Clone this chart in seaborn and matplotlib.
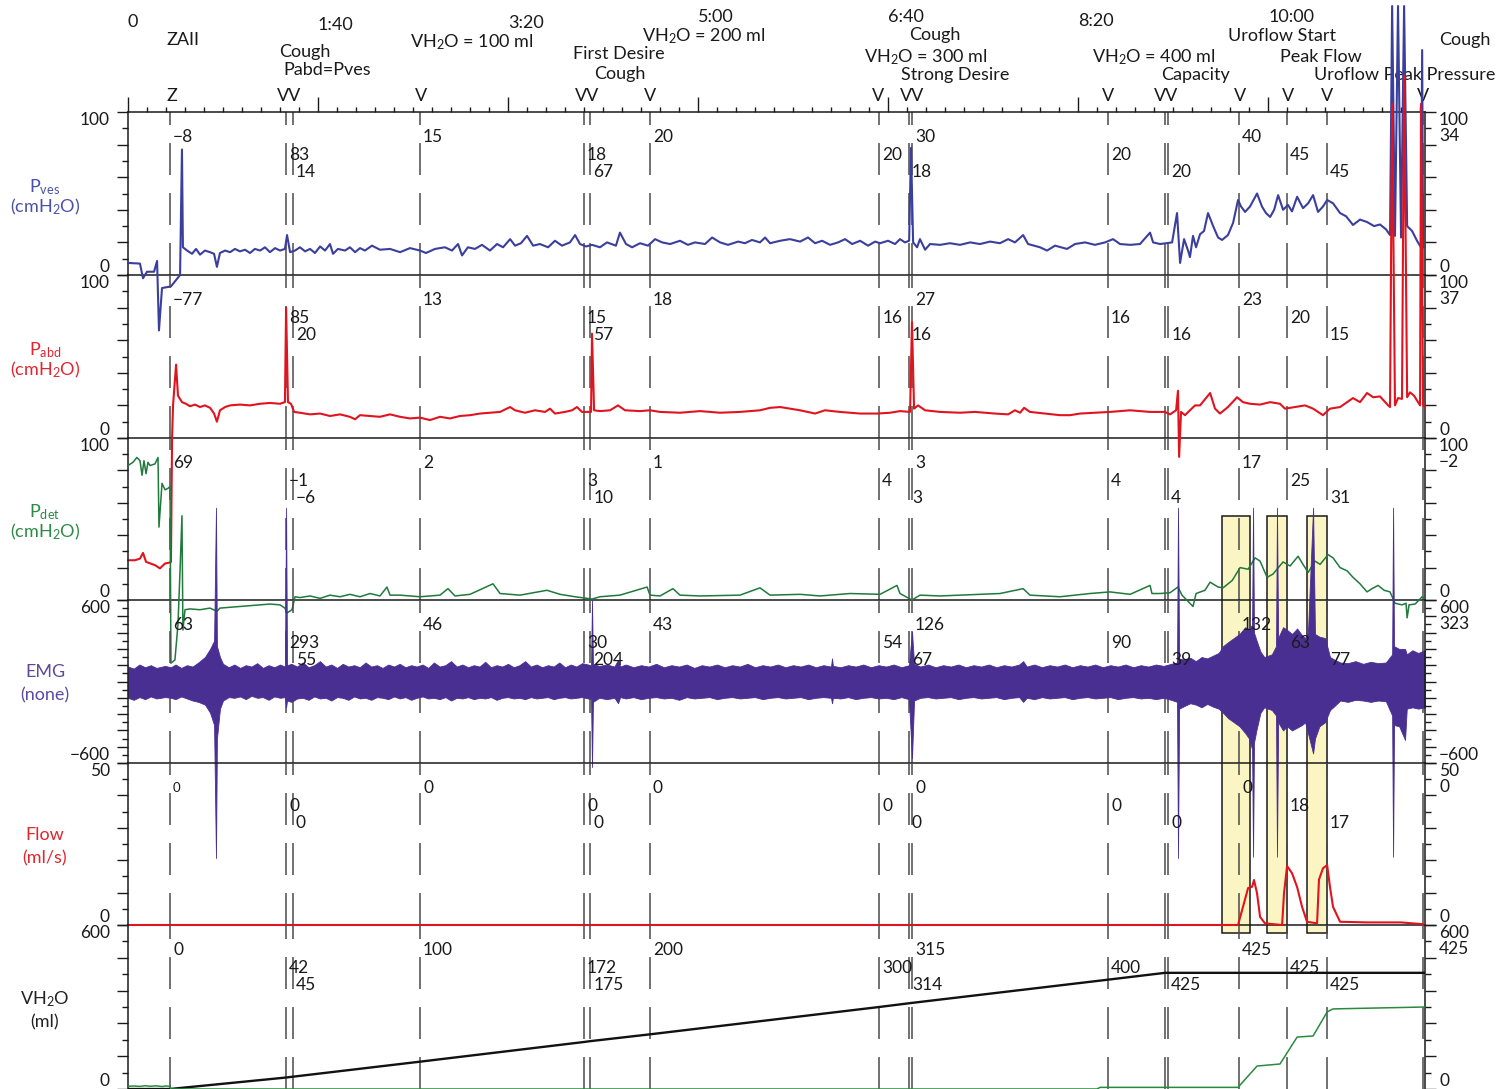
import numpy as np
import matplotlib
matplotlib.use("Agg")
import matplotlib.pyplot as plt
import matplotlib.transforms as mtransforms
from matplotlib.patches import Rectangle
from matplotlib.ticker import MultipleLocator
import seaborn as sns

# ======================= DATA =======================
time_labels = ["0", "1:40", "3:20", "5:00", "6:40", "8:20", "10:00"]
time_label_t = [0, 100, 200, 300, 400, 500, 600]

event_times = [22.1, 83.2, 86.8, 153.7, 240.0, 243.2, 274.7, 395.3, 411.0, 412.6,
               515.8, 545.8, 547.4, 584.7, 610.0, 631.0, 681.6]
event_rows = [0, 1, 2, 0, 1, 2, 0, 1, 2, 0, 1, None, 2, 0, 1, 2, None]

pves_values = ["−8", "83", "14", "15", "18", "67", "20", "20", "18", "30", "20", None, "20", "40", "45", "45", None]
pabd_values = ["−77", "85", "20", "13", "15", "57", "18", "16", "16", "27", "16", None, "16", "23", "20", "15", None]
pdet_values = ["69", "−1", "−6", "2", "3", "10", "1", "4", "3", "3", "4", None, "4", "17", "25", "31", None]
emg_values = ["63", "293", "55", "46", "30", "204", "43", "54", "67", "126", "90", None, "39", "132", "63", "77", None]
flow_values = ["0", "0", "0", "0", "0", "0", "0", "0", "0", "0", "0", None, "0", "0", "18", "17", None]
vol_values = ["0", "42", "45", "100", "172", "175", "200", "300", "314", "315", "400", None, "425", "425", "425", "425", None]

marker_labels = ["Z", "VV", "V", "VV", "V", "V", "VV", "V", "VV", "V", "V", "V", "V"]
marker_t = [23.2, 85.0, 154.2, 241.6, 274.7, 394.7, 412.6, 515.8, 546.3, 585.3, 610.5, 631.1, 681.6]

annot_texts = ["ZAII", "Cough", "Pabd=Pves", "VH$_2$O = 100 ml", "First Desire", "Cough",
               "VH$_2$O = 200 ml", "Cough", "VH$_2$O = 300 ml", "Strong Desire",
               "VH$_2$O = 400 ml", "Capacity", "Uroflow Start", "Peak Flow",
               "Uroflow Peak Pressure", "Cough"]
annot_t = [28.9, 93.2, 104.7, 181.0, 258.4, 259.0, 303.0, 424.7, 420.0, 435.3,
           540.0, 562.0, 607.4, 628.0, 672.0, 703.7]

left_top_labels = ["100", "100", "100", "600", "50", "600"]
left_bot_labels = ["0", "0", "0", "−600", "0", "0"]
right_current = ["34", "37", "−2", "323", "0", "425"]

uroflow_boxes = [(575.8, 590.5), (599.5, 610.0), (620.5, 631.1)]

# (time s, cmH2O)
pves_trace = [(0, 7.4), (6.3, 7), (7.9, -2), (10, 2), (13.7, 2), (15.3, 8.6), (16.3, -34), (17.9, -8),
    (22.6, -7), (27.4, 0), (28.4, 77), (28.9, 17), (31.1, 15), (33.7, 13), (35.8, 16), (37.9, 12.5),
    (40.5, 15), (43.2, 14), (45.3, 13), (46.8, 5), (48.4, 13.5), (51.1, 15), (53.7, 14), (56.3, 16),
    (58.9, 14.5), (61.6, 15.5), (64.2, 13.5), (66.8, 16), (69.5, 15), (72.1, 17), (74.7, 14), (77.4, 16.5),
    (80, 15), (82.6, 16), (83.7, 24.5), (85.3, 14), (87.9, 15), (90.5, 17), (93.2, 14.5), (95.8, 16),
    (98.4, 13.5), (101.1, 17.5), (103.7, 15), (106.3, 19), (107.9, 13), (110.5, 16), (114.2, 15),
    (116.8, 17), (119.5, 14), (122.1, 16.5), (124.7, 15), (128.4, 18), (132.6, 15.5), (137.9, 16),
    (143.2, 14), (148.4, 16.5), (153.7, 15), (156.8, 13.5), (161.6, 16), (166.8, 17), (170.5, 15),
    (173.7, 19), (175.8, 12), (178.9, 17), (182.6, 16), (186.3, 18.5), (190.5, 15), (194.2, 19),
    (197.4, 17), (201.1, 22), (203.7, 18), (206.8, 19.5), (210, 24), (213.2, 18), (216.8, 19),
    (221.1, 17), (224.7, 21), (228.4, 18), (232.6, 20), (235.3, 24.5), (237.9, 19), (241.1, 17.5),
    (244.2, 18.5), (248.4, 17), (252.1, 20), (256.8, 18), (258.9, 26), (262.1, 19), (265.3, 17),
    (269.5, 19.5), (273.7, 18), (277.4, 22), (281.1, 20), (285.3, 19), (290.5, 21), (294.7, 18.5),
    (298.4, 20), (303.7, 19), (307.4, 23), (311.6, 20), (315.8, 18.5), (321.1, 20.5), (324.7, 19.5),
    (328.4, 21.5), (332.6, 20), (335.3, 23), (337.9, 19.5), (343.2, 21), (348.4, 22), (353.7, 20.5),
    (357.9, 23), (361.6, 19.5), (365.3, 21), (369.5, 18.5), (373.7, 20), (377.4, 22), (381.1, 19),
    (385.3, 21), (389.5, 18), (393.2, 20.5), (395.8, 19.5), (400, 21), (403.7, 19), (406.3, 22),
    (408.9, 20), (411.1, 21), (412.1, 78), (413.2, 20), (415.3, 17), (416.8, 22), (419.5, 15.5),
    (422.1, 19), (427.4, 18.5), (432.6, 19.5), (437.9, 18.5), (443.2, 20), (448.4, 19), (453.7, 20.5),
    (458.9, 19.5), (463.2, 22), (466.8, 20), (471.1, 24.5), (473.7, 19), (480, 17), (483.7, 15),
    (487.9, 18), (494.2, 16), (498.4, 19), (503.7, 20), (508.9, 18.5), (514.2, 20), (518.4, 22),
    (522.1, 19), (527.4, 18.5), (532.6, 19), (537.9, 26), (539.5, 20), (543.2, 19), (546.8, 19.6),
    (549.5, 20), (552.1, 38), (553.7, 7.4), (555.8, 22), (557.9, 15), (558.9, 11), (560.5, 24),
    (562.1, 17), (564.2, 25), (566.3, 27), (568.4, 38), (571.1, 30), (573.7, 23), (575.8, 21.5),
    (578.9, 24.5), (581.6, 32), (584.2, 46), (585.8, 42), (587.9, 38.7), (590.5, 42), (594.2, 50),
    (596.8, 42), (598.9, 38), (601.1, 35.6), (603.2, 40), (605.3, 49), (607.9, 40), (610.5, 43),
    (612.6, 39), (615.3, 48), (618.4, 41), (621.1, 44), (623.7, 49), (626.3, 38.7), (628.9, 42),
    (631.1, 46), (634.2, 44), (637.9, 38), (641.1, 36), (644.7, 30.7), (648.4, 34), (652.1, 32.5),
    (655.8, 30), (658.9, 31), (662.1, 28), (664.2, 24.5), (665.3, 165), (666.8, 24), (668.4, 165),
    (670, 23), (671.6, 165), (673.2, 30), (675.8, 27), (678.4, 21), (680.5, 17), (681.1, 138),
    (681.6, 17), (682.6, 17)]

pabd_trace = [(0, -75), (3.7, -75), (6.3, -74), (7.9, -70.5), (9.5, -76), (14.2, -78), (16.8, -80),
    (19.5, -77), (21.6, -76.5), (22.6, -76), (23.2, 0), (23.7, 20), (25.3, 45), (26.3, 26), (28.4, 22),
    (30.5, 21), (32.6, 19.5), (35.3, 20.5), (37.9, 19), (40.5, 20), (43.2, 18.5), (45.3, 15), (46.8, 10),
    (48.4, 17), (51.1, 19), (53.7, 20), (58.9, 20.5), (64.2, 20), (69.5, 21), (74.7, 21.5), (80, 21),
    (82.6, 22), (83.2, 80), (84.2, 22), (85.8, 21), (87.4, 16), (90.5, 15.5), (95.8, 14.5), (101.1, 15),
    (106.3, 13.5), (111.6, 14.5), (116.8, 13), (119.5, 11.5), (122.1, 14), (127.4, 13.5), (132.6, 13),
    (137.9, 14.5), (143.2, 13), (148.4, 12), (153.7, 12.5), (158.9, 11), (164.2, 13), (169.5, 12),
    (174.7, 13.5), (180, 14), (185.3, 15), (190.5, 15.5), (195.8, 16), (201.1, 19), (203.7, 17),
    (208.9, 15.5), (214.2, 17), (219.5, 16), (222.1, 18), (224.7, 15), (230, 16), (233.7, 17),
    (236.3, 19), (238.9, 16), (243.7, 16), (244.2, 64), (245.3, 17), (248.4, 16.5), (253.7, 17),
    (257.9, 20), (261.6, 17), (269.5, 16.5), (274.7, 17), (280, 16), (290.5, 15.5), (301.1, 16.5),
    (311.6, 15.5), (322.1, 16), (327.4, 16.5), (332.6, 17), (337.9, 18.5), (343.2, 19), (353.7, 17),
    (361.6, 15), (366.8, 17), (374.7, 16), (385.3, 15), (394.2, 15), (401.1, 15.5), (406.3, 16.5),
    (411.6, 16), (412.6, 71), (413.7, 18), (415.8, 20), (419.5, 17), (427.4, 16), (437.9, 15.5),
    (445.8, 16), (456.3, 15), (463.2, 14.5), (466.8, 17), (469.5, 15.5), (471.6, 18.5), (474.7, 16),
    (482.6, 15), (490.5, 14), (495.8, 14), (501.1, 15), (508.9, 15.5), (516.8, 16), (527.4, 17),
    (532.6, 16.5), (537.9, 16), (545.8, 16), (548.4, 14.5), (551.6, 17), (552.6, 29), (553.2, -11.6),
    (554.2, 16), (556.3, 14), (558.9, 17), (561.6, 20), (564.2, 20), (569.5, 27.6), (572.1, 18),
    (574.7, 15), (578.9, 19), (583.7, 25), (586.8, 22), (590.5, 21), (595.8, 20.5), (601.1, 22),
    (606.3, 21), (608.9, 18), (614.2, 19), (619.5, 20), (623.7, 18), (628.9, 14), (632.6, 18),
    (637.9, 19), (644.7, 24.5), (648.4, 22), (652.1, 27.6), (655.3, 25), (658.9, 25.5), (663.2, 20),
    (664.2, 19), (665.3, 205), (666.8, 20), (668.4, 24.5), (670.5, 24), (671.6, 222), (673.2, 25),
    (674.7, 28), (676.8, 26), (678.9, 22), (680, 20), (680.5, 205), (681.6, 20), (682.6, 19)]

pdet_trace = [(0, 83), (2.6, 85), (4.7, 88), (6.3, 86), (7.4, 77), (8.4, 86), (9.5, 78), (10.5, 85),
    (11.6, 83), (14.2, 84), (15.8, 88), (16.3, 45), (17.9, 72), (19.5, 68), (21.1, 69), (22.1, 70),
    (22.6, -39), (24.7, -37), (26.3, -15), (27.4, 18.5), (28.4, 52), (28.9, -18.5), (30, -6),
    (32.6, -5.5), (37.9, -6), (43.2, -5), (46.8, -7), (48.4, -5), (53.7, -4.5), (58.9, -4),
    (64.2, -3.5), (69.5, -3), (74.7, -2.5), (80, -3), (82.6, -5), (83.7, -8), (86.3, -6), (87.9, 2),
    (90.5, 1.5), (95.8, 2.5), (101.1, 1), (106.3, 3), (111.6, 2), (116.8, 3.5), (122.1, 2), (127.4, 4),
    (132.6, 2.5), (136.3, 8), (137.9, 3), (143.2, 3), (153.7, 2), (164.2, 3), (168.4, 7), (172.1, 2.5),
    (180, 3.5), (192.1, 10), (195.8, 4), (206.3, 3), (220.5, 6), (227.4, 3.5), (235.3, 2),
    (244.2, 0.6), (248.4, 2), (258.9, 3), (273.2, 8), (274.7, 3), (280, 2.5), (286.8, 7), (290.5, 3),
    (301.1, 2.5), (322.1, 3), (332.6, 7.5), (337.9, 3), (353.7, 3.5), (364.2, 2.5), (380, 4),
    (395.8, 3.5), (404.7, 9), (406.3, 4), (412.6, 0), (416.8, 3), (427.4, 2.5), (448.4, 3.5),
    (458.9, 4), (471.1, 7), (474.7, 3), (490.5, 2), (506.3, 4), (516.8, 5), (527.4, 3.5), (537.9, 9),
    (538.9, 4), (543.2, 4), (548.4, 4.5), (552.6, 8), (554.7, 3), (560.5, -4), (562.1, 4), (566.8, 6),
    (569.5, 11), (573.7, 8), (576.3, 7.5), (581.1, 12), (585.3, 20), (589.5, 19), (593.2, 26),
    (595.8, 24), (599.5, 14), (602.6, 16), (607.9, 23.5), (611.6, 21), (615.8, 27), (618.4, 22),
    (621.1, 17), (624.7, 24), (627.4, 22), (631.6, 28), (634.2, 26), (637.9, 20), (641.6, 18),
    (644.7, 14), (648.4, 10), (652.1, 5), (654.7, 7), (657.9, 9), (661.1, 6), (664.2, 5), (666.8, -2),
    (670.5, -3), (672.6, -2), (673.2, -11), (674.2, -3), (677.4, -2.5), (681.1, 2), (682.6, 1)]

# EMG band envelope: (time s, upper, lower)
emg_envelope = [(0, 110, -120), (3, 95, -135), (6, 125, -115), (9, 105, -130), (12, 120, -110),
    (15, 100, -125), (19.5, 115, -115), (22.6, 105, -120), (25, 125, -130), (28, 100, -110),
    (31, 120, -125), (34, 110, -140), (37, 140, -150), (40.5, 180, -170), (43.2, 240, -230),
    (45.3, 300, -320), (46.3, 1280, -1300), (46.8, 260, -420), (48.4, 180, -200), (50, 130, -140),
    (53, 105, -115), (56, 125, -120), (59, 100, -110), (62, 120, -130), (65, 110, -105), (68, 135, -120),
    (71, 100, -115), (74, 120, -135), (77, 105, -110), (80, 125, -120), (82.6, 110, -115),
    (83.2, 1280, -190), (83.7, 120, -140), (86, 130, -150), (89, 110, -125), (92, 140, -120),
    (95, 105, -135), (98, 120, -110), (101, 150, -125), (104, 110, -120), (107, 125, -140),
    (110, 100, -115), (113, 130, -120), (116, 110, -135), (119, 120, -110), (122, 105, -125),
    (125, 140, -120), (128, 110, -135), (131, 120, -115), (134, 100, -120), (137, 125, -130),
    (140, 110, -110), (143, 130, -125), (146, 105, -115), (149, 120, -135), (152, 110, -120),
    (155, 125, -110), (158, 100, -125), (161, 140, -120), (164, 110, -130), (167, 120, -115),
    (170, 150, -140), (173, 110, -120), (176, 125, -125), (179, 105, -115), (182, 120, -130),
    (185, 110, -120), (188, 145, -125), (191, 105, -115), (194, 120, -135), (197, 110, -120),
    (200, 130, -115), (203, 105, -125), (206, 120, -120), (209, 150, -130), (212, 110, -115),
    (215, 125, -125), (218, 105, -120), (221, 120, -115), (224, 110, -130), (227, 140, -120),
    (230, 105, -115), (233, 125, -125), (236, 110, -120), (239, 135, -115), (243.7, 120, -130),
    (244.2, 600, -630), (244.7, 130, -150), (248, 115, -120), (252, 125, -130), (256, 110, -120),
    (257.9, 160, -160), (259, 110, -115), (262, 125, -125), (266, 105, -115), (270, 120, -130),
    (274, 110, -120), (278, 130, -115), (282, 105, -125), (286, 120, -120), (290, 110, -135),
    (294, 125, -115), (298, 100, -125), (302, 120, -120), (306, 110, -115), (310, 125, -130),
    (314, 105, -120), (318, 120, -115), (322, 110, -125), (326, 130, -120), (330, 105, -115),
    (334, 120, -130), (338, 110, -120), (342, 125, -115), (346, 105, -125), (350, 120, -120),
    (354, 110, -115), (358, 125, -130), (362, 105, -120), (366, 120, -115), (370, 110, -120),
    (370.5, 170, -160), (371, 115, -120), (375, 105, -125), (379, 120, -115), (383, 110, -130),
    (387, 125, -120), (391, 105, -115), (395, 120, -125), (399, 110, -120), (403, 125, -130),
    (407, 105, -115), (411, 120, -130), (412.6, 365, -565), (413.7, 130, -140), (417, 110, -120),
    (421, 125, -115), (425, 105, -125), (429, 120, -120), (433, 110, -115), (437, 125, -130),
    (441, 105, -120), (445, 120, -115), (449, 110, -125), (453, 125, -120), (457, 105, -115),
    (461, 120, -130), (465, 110, -120), (469, 125, -115), (471.1, 150, -150), (473, 110, -120),
    (477, 125, -130), (481, 105, -115), (485, 120, -125), (489, 110, -120), (493, 125, -115),
    (497, 105, -130), (501, 120, -120), (505, 110, -115), (509, 125, -125), (513, 105, -120),
    (517, 120, -115), (521, 110, -130), (525, 125, -120), (529, 105, -115), (533, 120, -125),
    (537, 110, -120), (541, 125, -130), (545, 115, -120), (549, 130, -135), (552.1, 140, -150),
    (552.6, 1280, -1300), (553.2, 170, -200), (556, 160, -180), (559, 175, -160), (562, 150, -170),
    (565, 180, -190), (568, 170, -165), (571, 190, -185), (574, 210, -200), (576.3, 260, -230),
    (579, 290, -270), (582, 320, -300), (585, 350, -330), (588, 400, -380), (590, 380, -420),
    (591.6, 420, -500), (592.1, 1280, -1290), (592.6, 360, -450), (594, 300, -350), (596, 220, -230),
    (598, 180, -190), (600, 190, -200), (602, 200, -210), (604.2, 260, -250), (604.7, 1280, -1290),
    (605.3, 320, -300), (607.9, 400, -360), (610, 380, -330), (612.6, 350, -360), (615.3, 390, -340),
    (617.9, 340, -320), (619.5, 320, -300), (621, 360, -380), (623.7, 1280, -530), (624.7, 350, -420),
    (627, 330, -330), (630, 320, -300), (632.6, 180, -210), (635, 160, -180), (638, 140, -140),
    (642, 135, -150), (646, 150, -135), (650, 130, -140), (654, 145, -150), (658, 135, -140),
    (662, 140, -145), (665.3, 200, -250), (665.8, 1280, -1290), (666.3, 260, -320), (669, 240, -330),
    (672.1, 240, -430), (673, 200, -200), (676, 230, -190), (679, 210, -200), (682.6, 230, -190)]

flow_trace = [(0, 0), (584.2, 0), (586.8, 5.6), (589.5, 11.4), (591.6, 11.8), (592.6, 13.9),
    (594.2, 9.8), (595.8, 2.5), (598.4, 0.5), (607.4, 0), (608.4, 9.8), (610, 18.2), (612.6, 16),
    (615.3, 11.7), (617.9, 5.6), (620.5, 1), (625.8, 0.5), (626.8, 14), (628.9, 17.5), (631.1, 18.5),
    (632.6, 11.7), (634.2, 5.6), (637.9, 1), (652.1, 0.8), (670, 0.8), (676.3, 0.5), (682.6, 0.2)]

vol_trace = [(0, 0), (22.1, 0), (83.2, 42), (86.8, 45), (153.7, 100), (240.0, 172), (243.2, 175),
    (274.7, 200), (395.3, 300), (412.6, 315), (515.8, 400), (545.8, 425), (682.6, 425)]

voided_trace = [(0, 10), (3, 11), (6.3, 9.5), (9, 12), (11.6, 10), (15, 11.5), (17.9, 9), (20, 11),
    (22.1, 10), (22.6, 0), (510, 0), (511.6, 6), (584.2, 6), (594.2, 84), (606.3, 91.5),
    (615.3, 190), (623.7, 194), (631.1, 282), (634.2, 293), (682.6, 300)]

# ======================= STYLE =======================
sns.set_theme(style="white")
plt.rcParams["font.family"] = ["Lato", "DejaVu Sans"]
plt.rcParams["mathtext.fontset"] = "custom"
plt.rcParams["mathtext.rm"] = "Lato"
plt.rcParams["mathtext.it"] = "Lato:italic"
plt.rcParams["mathtext.bf"] = "Lato:bold"
plt.rcParams["mathtext.default"] = "rm"
plt.rcParams["lines.scale_dashes"] = False

PVES_C, PABD_C, PDET_C = "#3a3f9e", "#e0141e", "#1f7a3c"
EMG_C, FLOW_C, VOL_C, VOID_C = "#4a2f93", "#e0141e", "#111111", "#2a8a3e"
TXT_C = "#1a1a1a"
EVENT_C = "#4a4a4a"
BOX_FACE = "#fbf5c4"

W, H = 1499, 1089
X0, X1 = 128, 1425
T_MAX = 682.6
FS = 12.5

fig = plt.figure(figsize=(W / 100, H / 100), dpi=100)
fig.patch.set_facecolor("white")

panel_px = [(112, 275), (275, 438), (438, 600), (600, 763), (763, 925), (925, 1089)]
ylims = [(0, 100), (0, 100), (0, 100), (-600, 600), (0, 50), (0, 600)]
tick_steps = [(20, 10), (20, 10), (20, 10), (120, 60), (10, 5), (120, 60)]
row_offsets = [25, 43, 60]

axes = []
for i, (top, bot) in enumerate(panel_px):
    ax = fig.add_axes([X0 / W, 1 - bot / H, (X1 - X0) / W, (bot - top) / H])
    ax.set_facecolor("none")
    axes.append(ax)


def draw_trace(ax, pairs, color, lw, z=5, clip=False):
    t, v = zip(*pairs)
    sns.lineplot(x=np.array(t), y=np.array(v), ax=ax, color=color, linewidth=lw,
                 estimator=None, sort=False, legend=False)
    line = ax.lines[-1]
    line.set_clip_on(clip)
    line.set_zorder(z)
    line.set_solid_joinstyle("round")


ax_pves, ax_pabd, ax_pdet, ax_emg, ax_flow, ax_vol = axes

# uroflow highlight boxes (behind everything below the Pdet panel)
box_trans = mtransforms.blended_transform_factory(ax_pdet.transData, fig.transFigure)
for (t0, t1) in uroflow_boxes:
    ax_pdet.add_patch(Rectangle((t0, 1 - 933 / H), t1 - t0, (933 - 516) / H, transform=box_trans,
                                facecolor=BOX_FACE, edgecolor="#1a1a1a", lw=1.1, clip_on=False, zorder=0.5))

# event lines
for ax in axes:
    for t in event_times:
        ax.axvline(t, color=EVENT_C, lw=1.1, linestyle=(0, (23, 13)), zorder=1)

# traces
draw_trace(ax_pves, pves_trace, PVES_C, 1.5)
draw_trace(ax_pabd, pabd_trace, PABD_C, 1.5)
draw_trace(ax_pdet, pdet_trace, PDET_C, 1.1)
te, up, lo = zip(*emg_envelope)
ax_emg.fill_between(np.array(te), np.array(up), np.array(lo), color=EMG_C, edgecolor=EMG_C,
                    lw=0.6, clip_on=False, zorder=3)
draw_trace(ax_flow, flow_trace, FLOW_C, 1.5)
draw_trace(ax_vol, vol_trace, VOL_C, 1.7, clip=True)
draw_trace(ax_vol, voided_trace, VOID_C, 1.1, clip=True)

# axes cosmetics
for i, ax in enumerate(axes):
    top, bot = panel_px[i]
    hpx = bot - top
    ax.set_xlim(0, T_MAX)
    ax.set_ylim(*ylims[i])
    ax.set_xlabel("")
    ax.set_ylabel("")
    ax.grid(False)
    for s in ax.spines.values():
        s.set_color(TXT_C)
        s.set_linewidth(1.1)
        s.set_zorder(4)
    ax.spines["top"].set_visible(i == 0)
    ax.spines["bottom"].set_visible(i < 5)
    major, minor = tick_steps[i]
    ax.yaxis.set_major_locator(MultipleLocator(major))
    ax.yaxis.set_minor_locator(MultipleLocator(minor))
    ax.tick_params(axis="y", which="major", direction="out", length=8, width=1.0, color=TXT_C,
                   left=True, right=True, labelleft=False, labelright=False)
    ax.tick_params(axis="y", which="minor", direction="out", length=4.3, width=1.0, color=TXT_C,
                   left=True, right=True)
    if i == 0:
        ax.xaxis.set_major_locator(MultipleLocator(100))
        ax.xaxis.set_minor_locator(MultipleLocator(10))
        ax.tick_params(axis="x", which="major", direction="out", length=10.8, width=1.0, color=TXT_C,
                       top=True, bottom=False, labeltop=False, labelbottom=False)
        ax.tick_params(axis="x", which="minor", direction="out", length=3.6, width=1.0, color=TXT_C,
                       top=True, bottom=False)
    else:
        ax.tick_params(axis="x", which="both", top=False, bottom=False, labelbottom=False, labeltop=False)

    # left / right scale labels
    ax.text(-18 / (X1 - X0), 1.0, left_top_labels[i], transform=ax.transAxes, ha="right", va="top",
            fontsize=FS, color=TXT_C)
    ax.text(-18 / (X1 - X0), 0.0, left_bot_labels[i], transform=ax.transAxes, ha="right", va="bottom",
            fontsize=FS, color=TXT_C)
    ax.text(1 + 14 / (X1 - X0), 1.0, left_top_labels[i], transform=ax.transAxes, ha="left", va="top",
            fontsize=FS, color=TXT_C)
    ax.text(1 + 14 / (X1 - X0), 1 - 24 / hpx, right_current[i], transform=ax.transAxes, ha="left",
            va="center", fontsize=FS, color=TXT_C)
    ax.text(1 + 14 / (X1 - X0), 0.0, left_bot_labels[i], transform=ax.transAxes, ha="left", va="bottom",
            fontsize=FS, color=TXT_C)

# event value labels in each panel
panel_values = [pves_values, pabd_values, pdet_values, emg_values, flow_values, vol_values]
for i, ax in enumerate(axes):
    top, bot = panel_px[i]
    hpx = bot - top
    trans = mtransforms.blended_transform_factory(ax.transData, ax.transAxes)
    for j, t in enumerate(event_times):
        r = event_rows[j]
        lab = panel_values[i][j]
        if r is None or lab is None:
            continue
        fs = 9.5 if (i == 4 and j == 0) else FS
        ax.text(t + 1.6, 1 - row_offsets[r] / hpx, lab, transform=trans, ha="left", va="center",
                fontsize=fs, color=TXT_C, zorder=6)

# top annotations
top_trans = mtransforms.blended_transform_factory(ax_pves.transData, fig.transFigure)
time_label_y = [22, 25, 23, 17, 17, 21, 17]
for lab, t, y in zip(time_labels, time_label_t, time_label_y):
    ax_pves.text(t, 1 - y / H, lab, transform=top_trans, ha="left", va="center", fontsize=13, color=TXT_C)

annot_y = [40, 52, 70, 42, 54, 74, 36, 35, 57, 75, 57, 75, 36, 57, 75, 40]
for lab, t, y in zip(annot_texts, annot_t, annot_y):
    ax_pves.text(t, 1 - y / H, lab, transform=top_trans, ha="center", va="center", fontsize=13,
                 color=TXT_C, clip_on=False)

for lab, t in zip(marker_labels, marker_t):
    ax_pves.text(t, 1 - 96 / H, lab, transform=top_trans, ha="center", va="center", fontsize=13,
                 color=TXT_C)

# channel names on the left
LBL = [("P$_{ves}$", 187, "#4a50a8"), ("(cmH$_2$O)", 207, "#4a50a8"),
       ("P$_{abd}$", 350, "#e0262e"), ("(cmH$_2$O)", 370, "#e0262e"),
       ("P$_{det}$", 512, "#2b8a45"), ("(cmH$_2$O)", 532, "#2b8a45"),
       ("EMG", 672, "#5b4aa0"), ("(none)", 695, "#5b4aa0"),
       ("Flow", 835, "#e0262e"), ("(ml/s)", 858, "#e0262e"),
       ("VH$_2$O", 999, "#222222"), ("(ml)", 1022, "#222222")]
for txt, y, c in LBL:
    fig.text(45 / W, 1 - y / H, txt, ha="center", va="center", fontsize=13, color=c)

fig.savefig("out.png", dpi=100, facecolor="white")
